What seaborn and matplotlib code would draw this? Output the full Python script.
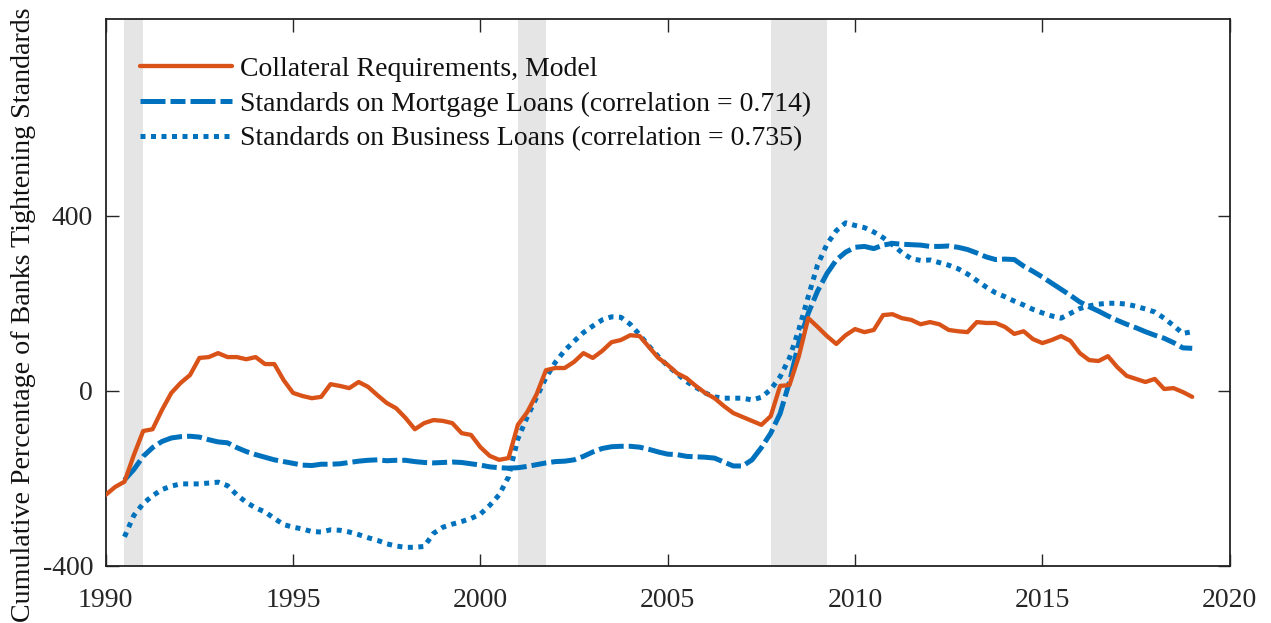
import numpy as np
import pandas as pd
import matplotlib
matplotlib.use("Agg")
import matplotlib.pyplot as plt
import seaborn as sns

# ---------------- data ----------------
start_model = 1990.0
start_survey = 1990.5

collateral_model = [
    -238, -220, -208, -147, -92, -88, -44, -5, 18, 36,
    75, 77, 86, 77, 77, 72, 77, 61, 61, 24,
    -5, -12, -17, -14, 15, 11, 6, 20, 9, -10,
    -28, -40, -62, -88, -74, -67, -69, -74, -97, -101,
    -129, -149, -158, -154, -78, -49, -8, 47, 52, 52,
    66, 86, 75, 91, 111, 116, 127, 125, 100, 75,
    59, 40, 29, 11, -5, -17, -35, -51, -60, -69,
    -78, -58, 11, 13, 79, 166, 146, 125, 107, 127,
    141, 134, 139, 173, 175, 166, 162, 152, 157, 152,
    139, 136, 134, 157, 155, 155, 146, 130, 136, 118,
    109, 116, 125, 114, 86, 70, 68, 79, 54, 34,
    27, 20, 27, 4, 6, -3, -14,
]

mortgage_standards = [
    -204, -180, -150, -130, -116, -108, -105, -104,
    -106, -112, -117, -119, -130, -139, -146, -152, -158, -162,
    -166, -170, -171, -168, -168, -167, -164, -161, -159, -158,
    -160, -159, -159, -162, -164, -165, -164, -163, -164, -167,
    -170, -174, -176, -177, -176, -173, -169, -165, -162, -161,
    -158, -150, -140, -132, -128, -127, -127, -129, -134, -140,
    -145, -146, -150, -151, -152, -154, -163, -172, -172, -158,
    -130, -97, -52, 20, 110, 177, 228, 268, 299, 317,
    328, 330, 325, 333, 337, 335, 334, 333, 330, 330,
    331, 328, 323, 315, 306, 300, 301, 300, 285, 273,
    260, 246, 232, 218, 203, 192, 182, 171, 161, 152,
    144, 135, 127, 120, 110, 98, 97,
]

business_standards = [
    -334, -285, -258, -240, -226, -218, -213, -213,
    -213, -211, -209, -217, -238, -255, -268, -277, -292, -306,
    -312, -316, -322, -323, -318, -319, -323, -329, -336, -342,
    -350, -355, -358, -358, -356, -326, -312, -305, -299, -292,
    -282, -262, -238, -197, -110, -60, -15, 30, 65, 92,
    113, 133, 148, 162, 169, 168, 152, 128, 102, 78,
    57, 39, 21, 8, -5, -14, -17, -17, -17, -21,
    -15, 3, 32, 75, 140, 215, 288, 335, 366, 384,
    378, 373, 363, 350, 334, 316, 302, 298, 299, 293,
    287, 279, 267, 252, 237, 224, 215, 205, 196, 186,
    178, 171, 166, 177, 188, 194, 198, 200, 200, 198,
    193, 187, 180, 166, 149, 131, 135,
]

recessions = [(1990.5, 1991.0), (2001.0, 2001.75), (2007.75, 2009.25)]

labels = [
    "Collateral Requirements, Model",
    "Standards on Mortgage Loans (correlation = 0.714)",
    "Standards on Business Loans (correlation = 0.735)",
]
x_ticks = [1990, 1995, 2000, 2005, 2010, 2015, 2020]
y_ticks = [-400, 0, 400]
y_label = "Cumulative Percentage of Banks Tightening Standards"

# ---------------- frames ----------------
df_model = pd.DataFrame({
    "year": start_model + 0.25 * np.arange(len(collateral_model)),
    "value": collateral_model,
})
df_mort = pd.DataFrame({
    "year": start_survey + 0.25 * np.arange(len(mortgage_standards)),
    "value": mortgage_standards,
})
df_bus = pd.DataFrame({
    "year": start_survey + 0.25 * np.arange(len(business_standards)),
    "value": business_standards,
})

# ---------------- style ----------------
sns.set_style("white")
plt.rcParams["font.family"] = ["Liberation Serif", "DejaVu Serif"]
plt.rcParams["axes.unicode_minus"] = False

orange = "#D95319"
blue = "#0072BD"
text_col = "#262626"
fs = 20

fig = plt.figure(figsize=(12.71, 6.23), dpi=100)
ax = fig.add_axes([0.0832, 0.092, 0.8843, 0.8775])

for a, b in recessions:
    ax.axvspan(a, b, color="#e5e5e5", lw=0, zorder=0)

sns.lineplot(data=df_model, x="year", y="value", ax=ax, color=orange,
             lw=3.1, label=labels[0], zorder=3)
sns.lineplot(data=df_mort, x="year", y="value", ax=ax, color=blue,
             lw=3.6, label=labels[1], zorder=2)
sns.lineplot(data=df_bus, x="year", y="value", ax=ax, color=blue,
             lw=3.6, label=labels[2], zorder=2)

lines = ax.get_lines()
lines[1].set_dashes([5.0, 1.0, 3.0, 1.0])
lines[1].set_dash_capstyle("butt")
lines[2].set_dashes([1.0, 1.1])
lines[2].set_dash_capstyle("butt")

ax.set_xlim(1990, 2020)
ax.set_ylim(-400, 850)
ax.set_xticks(x_ticks)
ax.set_yticks(y_ticks)
ax.set_xticklabels([str(t) for t in x_ticks])
ax.set_yticklabels([str(t) for t in y_ticks])
ax.tick_params(axis="both", which="both", direction="in", length=9, width=1.0,
               color=text_col, labelsize=fs, labelcolor=text_col,
               top=True, right=True, bottom=True, left=True)
ax.tick_params(axis="x", pad=16)
ax.tick_params(axis="y", pad=9)
ax.set_xlabel("")
ax.set_ylabel(y_label, fontsize=20.2, color="#111111")
ax.yaxis.set_label_coords(-0.0625, 0.459)
for s in ax.spines.values():
    s.set_color("#222222")
    s.set_linewidth(1.3)
    s.set_visible(True)

leg = ax.legend(loc="upper left", bbox_to_anchor=(0.0305, 0.931), frameon=False,
                fontsize=fs, handlelength=3.31, handletextpad=0.29,
                labelspacing=0.33, borderaxespad=0, borderpad=0)
for t in leg.get_texts():
    t.set_color("#111111")
for h in leg.get_lines():
    h.set_linewidth(3.6)
leg.get_lines()[0].set_linewidth(3.1)

fig.savefig("out.png", dpi=100)
